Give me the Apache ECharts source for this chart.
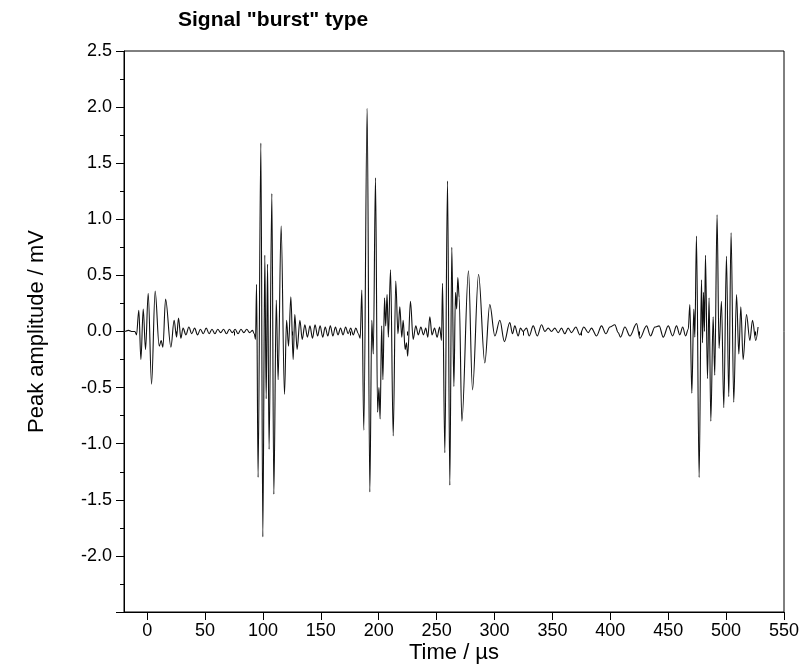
<!DOCTYPE html>
<html>
<head>
<meta charset="utf-8">
<script src="https://cdn.jsdelivr.net/npm/echarts@6/dist/echarts.min.js"></script>
<style>
html,body{margin:0;padding:0;background:#fff;}
#chart{width:807px;height:670px;}
</style>
</head>
<body>
<div id="chart"></div>
<script>
// ---- data ----
const chartTitle = 'Signal "burst" type';
const xAxisName = 'Time / µs';
const yAxisName = 'Peak amplitude / mV';

const xTickLabels = [0, 50, 100, 150, 200, 250, 300, 350, 400, 450, 500, 550];
const xMinorTicks = [25, 75, 125, 175, 225, 275, 325, 375, 425, 475, 525];
const yTickLabels = [-2.0, -1.5, -1.0, -0.5, 0.0, 0.5, 1.0, 1.5, 2.0, 2.5];

// time (µs) of each turning point of the trace
const timeUs = [
  -19, -16, -13, -10.6, -9.2, -7.2, -5.4, -3.4, -1.4, 0.9, 3.8, 6.9, 10.4, 12.1, 13.6, 15.9, 20.5, 23.3, 25.4, 27.1, 29.1,
  31, 33.5, 36, 38.5, 41, 43.5, 46, 48.5, 51, 53.5, 56, 58.5, 61, 63.5, 66, 68.5, 71, 73.5, 76, 78.5, 81, 83.5, 86, 88.5, 91, 92.5,
  93.6, 94.5, 95.8, 98.2, 99.9, 101.6, 102.8, 104.0, 105.3, 107.7, 109.4, 111.5, 113.1, 115.7, 118.6, 120.4, 122.1, 124.1, 126.1,
  127.5, 129.5, 131.9, 133.9, 136.2, 138.4, 140.6, 142.8, 145, 147.2, 149.4, 151.6, 153.8, 156, 158.2, 160.4, 162.6, 164.8,
  167, 169.2, 171.4, 173.6, 175.8, 178, 180.2, 182.4, 184.0,
  185.4, 187.1, 190.0, 192.3, 194.0, 195.3, 197.2, 199.0, 200.2, 201.2, 202.5, 203.6, 205.0, 206.0, 207.2, 208.3, 210.2, 212.5,
  214.7, 216.6, 218.2, 219.9, 221.1, 222.8, 224.0, 225.0, 227.4, 229.7, 232.0, 234.2, 236.4, 238.6, 240.6, 242.4, 244.1, 246.0,
  248.2, 250.4, 252.6, 254.2,
  255.1, 257.1, 259.4, 261.4, 263.1, 264.9, 266.3, 267.3, 268.3, 269.5, 271.8, 277.5, 281, 286.2, 291.6, 295.9, 300.3, 304.6, 308.5,
  313.2, 315.5, 317.5, 320.4, 322.4, 324.7, 327.6, 330, 333.4, 336.9, 340.6, 343.5, 346.4, 349.2, 352.1, 355, 357.8, 360.7, 363.6,
  366.5, 370.2, 373.7, 377.1, 380.9, 383.7, 388.1, 392.4, 396.2, 399.6, 403.9, 406.8, 408.8, 412.6, 416.9, 422.7, 425.5, 431.3,
  434.7, 438.5, 442.2, 445.7, 450, 453.8, 457.2, 460, 462.5, 465, 467.3,
  468.7, 470.4, 472.1, 473, 474.4, 476.7, 478.7, 479.6, 480.5, 481.3, 482.2, 483.9, 485.3, 486.8, 488.8, 490.2, 492.2, 493.9,
  496, 498, 500.3, 502.3, 504.3, 506.6, 509, 511, 512.7, 514.7, 517.6, 520.5, 522.8, 525.6, 527.6
];

// amplitude (mV) at each turning point
const amplitudeMv = [
  0.0, 0.01, 0.0, 0.0, -0.03, 0.19, -0.25, 0.2, -0.16, 0.34, -0.47, 0.36, -0.13, -0.08, -0.14, 0.29, -0.14, 0.1, -0.05, 0.12, -0.06,
  0.03, -0.03, 0.04, -0.02, 0.03, -0.03, 0.02, -0.02, 0.03, -0.02, 0.02, -0.02, 0.02, -0.01, 0.02, -0.02, 0.02, -0.01, 0.02, -0.02, 0.02, -0.01, 0.02, -0.01, 0.01, -0.02,
  -0.07, 0.42, -1.3, 1.68, -1.83, 0.68, -0.6, 0.6, -1.05, 1.23, -1.45, 0.28, -0.43, 0.94, -0.56, 0.1, -0.13, 0.31, -0.25,
  0.15, -0.16, 0.1, -0.07, 0.06, -0.05, 0.05, -0.06, 0.06, -0.04, 0.05, -0.05, 0.04, -0.04, 0.05, -0.04, 0.04, -0.03,
  0.03, -0.03, 0.04, -0.02, 0.03, -0.03, 0.03, -0.02, -0.06,
  0.37, -0.88, 1.99, -1.43, 0.1, -0.2, 1.37, -0.72, -0.5, -0.78, 0.05, -0.43, 0.3, 0.05, 0.33, -0.05, 0.55, -0.93,
  0.45, -0.02, 0.22, -0.05, 0.1, -0.16, -0.1, -0.22, 0.27, -0.07, 0.05, -0.03, 0.04, -0.03, 0.03, -0.05, 0.13, -0.03,
  0.03, -0.05, 0.04, -0.08,
  0.43, -1.08, 1.34, -1.37, 0.75, -0.49, 0.35, 0.2, 0.48, 0.3, -0.8, 0.54, -0.52, 0.51, -0.28, 0.24, -0.04, 0.1, -0.09,
  0.08, -0.02, 0.05, -0.04, 0.03, 0.0, 0.03, -0.04, 0.05, -0.04, 0.06, 0.0, 0.03, 0.0, 0.03, -0.01, 0.03, -0.02, 0.03,
  -0.01, 0.04, -0.03, 0.04, -0.01, 0.03, -0.04, 0.05, -0.02, 0.04, 0.06, -0.01, -0.05, 0.04, -0.04, 0.07, -0.06, 0.05,
  -0.04, 0.04, 0.05, -0.05, 0.05, -0.04, 0.05, -0.03, 0.04, -0.04, 0.02,
  0.24, -0.55, 0.2, -0.05, 0.85, -1.3, 0.46, -0.1, 0.35, 0.0, 0.68, -0.42, 0.3, -0.8, 0.13, -0.39, 1.04, -0.15,
  0.27, -0.68, 0.67, -0.58, 0.88, -0.63, 0.33, -0.2, 0.22, -0.25, 0.15, -0.08, 0.1, -0.08, 0.04
];

// ---- chart ----
const seriesData = timeUs.map((t, i) => [t, amplitudeMv[i]]);
const FONT = 'Liberation Sans, Arial, sans-serif';

const chart = echarts.init(document.getElementById('chart'), null, {renderer: 'canvas'});
chart.setOption({
  animation: false,
  backgroundColor: '#fff',
  title: {
    text: chartTitle,
    left: 178, top: 10, padding: 0,
    textStyle: {fontFamily: FONT, fontSize: 21, fontWeight: 'bold', color: '#000'}
  },
  grid: {
    left: 124, right: 23, top: 51, bottom: 58,
    outerBoundsMode: 'none', containLabel: false,
    show: true, borderColor: '#000', borderWidth: 1, backgroundColor: 'transparent'
  },
  xAxis: [{
    type: 'value', min: -20, max: 550,
    name: xAxisName, nameLocation: 'middle', nameGap: 30, nameMoveOverlap: false,
    nameTextStyle: {fontFamily: FONT, fontSize: 22, color: '#000'},
    axisLine: {show: true, onZero: false, lineStyle: {color: '#000', width: 1}},
    axisTick: {show: true, inside: false, length: 8, customValues: xTickLabels, lineStyle: {color: '#000'}},
    axisLabel: {show: true, customValues: xTickLabels, margin: 10, fontFamily: FONT, fontSize: 18, color: '#000'},
    splitLine: {show: false}
  }, {
    type: 'value', min: -20, max: 550, position: 'bottom',
    axisLine: {show: false},
    axisTick: {show: true, inside: false, length: 4, customValues: xMinorTicks, lineStyle: {color: '#000'}},
    axisLabel: {show: false},
    splitLine: {show: false}
  }],
  yAxis: {
    type: 'value', min: -2.5, max: 2.5, interval: 0.5,
    name: yAxisName, nameLocation: 'middle', nameGap: 76, nameRotate: 90, nameMoveOverlap: false,
    nameTextStyle: {fontFamily: FONT, fontSize: 22, color: '#000'},
    axisLine: {show: true, onZero: false, lineStyle: {color: '#000', width: 1}},
    axisTick: {show: true, inside: false, length: 8, lineStyle: {color: '#000'}},
    minorTick: {show: true, splitNumber: 2, length: 4, lineStyle: {color: '#000'}},
    axisLabel: {show: true, customValues: yTickLabels, margin: 12, fontFamily: FONT, fontSize: 18, color: '#000',
      formatter: v => Number(v).toFixed(1)},
    splitLine: {show: false}
  },
  series: [{
    type: 'line', xAxisIndex: 0, yAxisIndex: 0,
    data: seriesData,
    showSymbol: false, symbol: 'none',
    smooth: 0.35, smoothMonotone: 'x',
    lineStyle: {color: '#111', width: 1.1},
    z: 3
  }]
});
</script>
</body>
</html>
